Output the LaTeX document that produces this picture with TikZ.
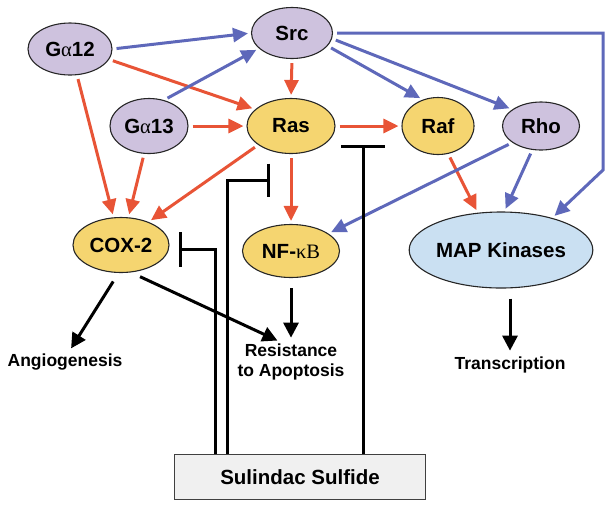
\documentclass[tikz,border=0pt]{standalone}
\usepackage{fontspec}
\setmainfont{Liberation Sans}
\newfontfamily\grk{Liberation Serif}
\usepackage{tikz}
\usetikzlibrary{positioning}
\usetikzlibrary{shapes.geometric}
\usetikzlibrary{arrows.meta}
\definecolor{lilac}{RGB}{206,194,222}
\definecolor{butter}{RGB}{245,213,112}
\definecolor{skyish}{RGB}{202,224,242}
\definecolor{redarr}{RGB}{232,84,54}
\definecolor{bluearr}{RGB}{94,104,186}
\tikzstyle{protein}=[ellipse,draw=black!85,line width=1.1pt,inner sep=0pt,font=\fontsize{20.5}{22}\selectfont\bfseries]
\tikzstyle{outcome}=[align=center,inner sep=1pt,font=\fontsize{17.5}{20}\selectfont\bfseries]
\tikzstyle{redge} = [draw,line width=3pt,redarr,-{Triangle[length=15pt,width=14pt]},shorten >=3pt,shorten <=4pt]
\tikzstyle{bedge} = [draw,line width=3pt,bluearr,-{Triangle[length=15pt,width=14pt]},shorten >=3pt,shorten <=4pt,line join=miter]
\tikzstyle{kedge} = [draw,line width=3pt,black,-{Triangle[length=15pt,width=15pt]},shorten >=5pt,shorten <=10pt]
\tikzstyle{inhib} = [draw,line width=3pt,black,line join=miter]
\tikzset{drugbox/.style={rectangle,draw=black!75,fill=black!6,line width=1.2pt,minimum width=251pt,minimum height=45pt,font=\fontsize{20.5}{22}\selectfont\bfseries}}

\begin{document}
\begin{tikzpicture}[x=1pt,y=-1pt]

\useasboundingbox (0,0) rectangle (612,507);

 %receptors and kinases
 \foreach \x/\y/\w/\h/\name/\label in {70/49/84/52/g12/{G{\grk\mdseries α}12}, 292/33/81/51/src/Src,
          149/126/78/55/g13/{G{\grk\mdseries α}13}, 541/126/77/48/rho/Rho}
   \node[protein,fill=lilac,minimum width=\w pt,minimum height=\h pt] (\name) at (\x,\y) {\label};

 \foreach \x/\y/\w/\h/\name/\label in {291/126/88/55/ras/Ras, 438/126/72/57/raf/Raf,
          121/245/96/55/cox/COX-2, 291/251/97/53/nfkb/{NF-{\grk\mdseries κB}}}
   \node[protein,fill=butter,minimum width=\w pt,minimum height=\h pt] (\name) at (\x,\y) {\label};

 \node[protein,fill=skyish,minimum width=171pt,minimum height=76pt] (map) at (501,250) {MAP Kinases};

 %outcomes
 \node[outcome] (angio) at (65,362) {Angiogenesis};
 \node[outcome] (resist) at (291,362) {Resistance\\to Apoptosis};
 \node[outcome] (trans) at (510,365) {Transcription};

 \node[drugbox] (drug) at (300,477) {Sulindac Sulfide};

 %red links
 \foreach \source/\dest in {g12.-15/ras.155, g13.east/ras.west, g12.-75/cox.105, g13.-100/cox.75,
          ras.-150/cox.40, src.south/ras.north, ras.south/nfkb.north, ras.east/raf.west, raf.-70/map.122}
   \path[redge] (\source) -- (\dest);

 %blue links
 \foreach \source/\dest in {g12.east/src.west, g13.60/src.205, src.-20/raf.120, src.-8/rho.150,
          rho.-150/nfkb.25, rho.-110/map.85}
   \path[bedge] (\source) -- (\dest);

 \coordinate (srcA) at (603,33);
 \coordinate (srcB) at (603,170);
 \path[bedge] (src.east) -- (srcA) -- (srcB) -- (map.32);

 %outputs
 \foreach \source/\dest in {cox.-95/angio.70, cox.-70/resist.115, nfkb.south/resist.north}
   \path[kedge] (\source) -- (\dest);
 \path[kedge] (map.south -| trans.north) -- (trans.north);

 %inhibition by the drug
 \coordinate (barA) at (363,145);
 \coordinate (turnB) at (227,180);
 \coordinate (barB) at (270,180);
 \coordinate (turnC) at (215,249);
 \coordinate (barC) at (179,249);

 \path[inhib,-{Bar[width=44pt,line width=3pt]}] (drug.north -| barA) -- (barA);
 \path[inhib,-{Bar[width=33pt,line width=3pt]}] (drug.north -| turnB) -- (turnB) -- (barB);
 \path[inhib,-{Bar[width=35pt,line width=3pt]}] (drug.north -| turnC) -- (turnC) -- (barC);

\end{tikzpicture}
\end{document}
